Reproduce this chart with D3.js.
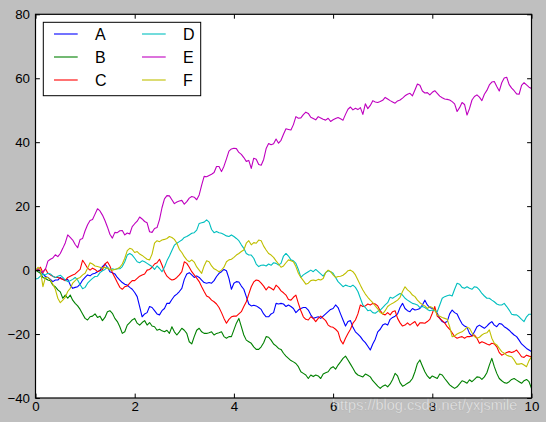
<!DOCTYPE html>
<html>
<head>
<meta charset="utf-8">
<script src="https://cdn.jsdelivr.net/npm/d3@7"></script>
<style>
  body { margin: 0; background: #bfbfbf; }
  svg { display: block; font-family: "Liberation Sans", Arial, sans-serif; }
</style>
</head>
<body>
<svg id="SVG_CONTAINER" width="546" height="422"></svg>
<script>
// x runs 0..10 in steps of 0.05
const xs = d3.range(201).map(i => i / 20);

const seriesA = [0,0.2,-0.5,-1.2,-2,-2.3,-2.9,-3.6,-3.1,-3.1, -2.3,-2.9,-3.1,-2.9,-4.6,-5.7,-5.4,-5.2,-4.4,-3.1,
  -2.3,-1.5,-1.8,-1.2,-1,-0.5,0,1.1,1.9,0.9, -0.5,-0.8,-1.2,-2.3,-3.1,-3.9,-4.4,-4.7,-5.4,-6,
  -7,-8.3,-11.4,-14.6,-13.7,-13.3,-11.4,-11.7,-12.7,-13.7, -14,-12.7,-12,-10.4,-10.4,-9.2,-8.1,-7.5,-6.7,-5.7,
  -2.9,-1.2,-0.8,-1.5,-2.3,-1.8,-2.3,-3.1,-3.9,-4.1, -3.9,-4.1,-3.3,-2,-1,-0.5,0.2,-0.2,-2.6,-6,
  -4.1,-3.6,-3.7,-5,-6,-8.3,-10.6,-11.2,-11,-11.2, -11.7,-12.3,-13.7,-14.6,-14.6,-13.7,-13.3,-10.4,-10.6,-10.4,
  -10.6,-11.4,-10.9,-11.4,-12,-13.3,-12.5,-12,-11.7,-11.7, -12.5,-14,-15.1,-14.8,-14.6,-15.1,-14.4,-13.7,-13,-12.3,
  -12,-10.9,-11.7,-13.7,-15.6,-17.5,-16.1,-15.8,-17.9,-19.3, -20,-20.8,-21.9,-22.7,-23.8,-25,-23.1,-21.6,-19.3,-18.5,
  -17.2,-16.8,-17.2,-15.4,-14.8,-14.4,-13.7,-11.7,-10.4,-12, -12.7,-13,-12,-12.5,-12.3,-12,-10.9,-9.4,-10.9,-11.7,
  -12,-12.3,-13.5,-15.1,-16.1,-16.5,-16.1,-13.7,-12.5,-13.3, -13.7,-15.4,-16.8,-17.5,-17.9,-19.8,-20.6,-19.3,-17.7,-17.2,
  -17.7,-18.2,-17.5,-16.7,-16.1,-17.2,-17.7,-16.7,-16.9,-17.7, -18.2,-18.8,-19.6,-20.3,-20.8,-21.9,-23.1,-23.8,-24.5,-25,
  -25.5];
const seriesB = [0,-0.5,-1,-2.3,-2.6,-3.1,-3.3,-4.7,-5.2,-6.2, -6.8,-8.8,-7.8,-8.8,-7.8,-9.4,-10.4,-11.2,-12.3,-13.7,
  -15.1,-15.6,-14.6,-14.4,-13.7,-14.8,-14.4,-15.8,-14.8,-13, -12.7,-13.5,-15.1,-16.1,-17.7,-19.8,-19.3,-17.2,-16.4,-15.6,
  -15.1,-16.6,-17.2,-16.4,-15.8,-17.2,-16.4,-17.5,-17.7,-18.8, -18.5,-19,-19.3,-18.8,-19.8,-17.7,-19.3,-20.3,-19.3,-18.2,
  -18.8,-19.8,-22.4,-23.1,-20.8,-18.8,-18.2,-19.3,-19.8,-19.8, -19.6,-19.3,-20.3,-19.8,-19.6,-19.3,-20.8,-21.3,-20.8,-20.8,
  -18.7,-16.6,-15.1,-17.7,-20.3,-21.9,-22.4,-22.9,-24,-24.8, -24.8,-24,-22.7,-20.8,-21,-21.9,-23.1,-23.7,-24.5,-24.8,
  -26,-26.9,-27.6,-28.3,-28.7,-29.2,-30.2,-31.8,-32.3,-32.8, -33.9,-32.8,-33.3,-32.8,-33.1,-33.9,-32.5,-32.1,-31.8,-30.7,
  -30.2,-31,-29.7,-28.7,-27.6,-26.9,-28.1,-29.4,-30.7,-32.1, -32.8,-33.1,-33.4,-32.5,-32.9,-33.4,-34.6,-35.4,-36.3,-37,
  -36.3,-35.9,-36.5,-35.6,-34.2,-32.3,-33.1,-35.2,-36.3,-35.9, -35.4,-34.9,-33.9,-31.8,-29.2,-28.1,-30,-31.8,-33.1,-33.9,
  -33.1,-33.5,-33.9,-32.5,-32.8,-33.9,-34.9,-35.9,-36.5,-37, -36.5,-35.6,-34.6,-34.9,-35.4,-34.3,-34.9,-34.2,-33.4,-33.5,
  -34.2,-33.4,-32.1,-29.7,-27.6,-30.2,-32.3,-33.9,-34.6,-35.2, -35.4,-34.9,-34.2,-33.9,-34.4,-34.9,-35.4,-34.6,-34.2,-34.9,
  -37];
const seriesC = [0,0,0.9,-0.8,0.4,-1,-1.5,-1.9,-2.3,-2.3, -2.6,-2.9,-3.3,-2.3,-1.9,-1.5,-1.2,-0.5,0.2,3.1,
  1.9,0.6,0,0.6,0.2,-0.5,-0.2,0.2,1.9,2.6, 1.3,-0.8,-2.3,-3.9,-5.4,-6,-5.2,-5,-4.1,-3.3,
  -3.3,-2.6,-1.9,-1.5,-1.2,0,0.2,0.9,1.9,2.3, 3.4,1.6,-0.5,-1.9,-2.6,-3.1,-2.9,-2.3,-1.5,-0.5,
  2.6,2.1,0.9,-0.5,-1.5,-2.5,-3.6,-5.2,-6.7,-8.1, -8.5,-9.4,-9.9,-10.6,-11.7,-13.3,-15.1,-16.6,-15.4,-14.6,
  -14.4,-14.4,-13.7,-13,-11.4,-9.9,-7.5,-5.2,-3.7,-3.1, -3.3,-4.1,-5,-6.2,-5.2,-5.7,-6.2,-4.7,-5.4,-6.5,
  -7.1,-7.8,-9.2,-9.4,-8.5,-7.8,-10.4,-12.7,-14.6,-15.4, -15.6,-14.6,-15.1,-16.1,-15.1,-14.4,-15.1,-15.8,-17.2,-17.7,
  -17.9,-18.5,-19.3,-21.9,-23.1,-21.3,-19.8,-18.5,-16.6,-15.6, -13.7,-10.9,-11.4,-11.2,-10.6,-10.9,-10.4,-10.6,-11.2,-12.7,
  -13.7,-14,-13.3,-14,-13,-12.7,-15.1,-16.5,-17.5,-17.2, -16.5,-17.2,-16.6,-16.1,-17.5,-16.5,-16.5,-16.6,-16.1,-15.4,
  -13.5,-11.4,-14.4,-15.1,-15.8,-16.5,-17.7,-18.5,-19.6,-20.8, -21.3,-21,-20.8,-21.3,-20.8,-20.8,-20.6,-20.3,-21.3,-22.9,
  -22.4,-22.7,-23.1,-23.4,-22.9,-23.1,-24,-25.8,-26.6,-26.2, -25.8,-25.5,-25.8,-25.5,-25,-26,-27.1,-27.3,-26.6,-26.9,
  -27.1];
const seriesD = [-2.8,-2.6,-1.9,-1.2,-1.5,-1,-1.2,-1.9,-2.3,-1.9, -1.6,-2.3,-3.1,-3.6,-3.3,-2.9,-2.3,-3.1,-4.6,-5.8,
  -5.4,-4.1,-3.3,-2.6,-2,-1.9,-0.8,-0.2,0.2,0.9, 0,0.4,0.2,0.4,0.4,1.1,2.6,4.7,5.2,4.7,
  3.7,2.6,2.3,2.9,2.6,2.1,1.6,1.1,0.2,1.3, 0.5,-0.5,0.9,2.9,4.4,6.1,7.8,8.4,8.9,9.4,
  10.2,10.5,11,11.5,11.7,12.5,14.6,14.8,15,15.7, 15,12.7,11.7,12.1,11.7,11.5,11.1,10.7,10.5,11,
  10.5,9.9,9.2,7.9,6.8,5.2,4.7,4.7,3.7,1.9, 1.1,1.5,1.6,1.3,1.9,1.5,2.3,2.1,1.6,2.1,
  4.4,5.2,4.4,3.2,2.9,2.1,0.2,-2.3,-1.5,-1, -0.5,0,-0.5,0.2,-0.5,-1.2,-1.9,-0.8,-0.2,-0.5,
  -1,-2.3,-3.6,-4.4,-5.2,-4.7,-5,-5.2,-4.7,-5.4, -6.7,-8.8,-10.9,-11.7,-12.7,-12.5,-13.3,-13.5,-12.9,-12.5,
  -11.7,-10.9,-10.2,-8.5,-8.8,-8.3,-7.8,-7.3,-7.8,-8.8, -9.4,-9.9,-10.4,-10.6,-10.9,-11.7,-11.4,-11.7,-12.3,-12.7,
  -12.5,-12.7,-13,-10.9,-8.8,-8.3,-8,-7.8,-8.1,-6, -4.1,-4.4,-5.4,-5.7,-5.2,-5.7,-6,-5.2,-5.4,-6.2,
  -7.3,-8.1,-8.8,-8.8,-9.4,-9.9,-10.6,-10.9,-10.9,-10.4, -11.4,-12.5,-13.8,-14,-14,-14.6,-15.4,-16.1,-14.6,-13.8,
  -13.8];
const seriesE = [0,0.5,-0.3,-0.5,0.2,2.8,3.4,3.8,4.8,4.2, 5.2,6.8,8.5,11,10.2,9.4,8,7,9.6,9.9,
  12.3,14.2,15.5,15.8,17.5,19.2,18.5,17.2,15.5,13.5, 11.2,10,11.8,11.7,12.3,12.4,11,11.6,11.3,13.6,
  14.5,15.3,16.6,16,15.2,14.8,12,11.8,13,13.3, 15.8,19.5,22.3,23.3,23.2,22,20.8,21.3,21.6,21.8,
  20.6,21.4,22.5,23,22.8,22,23.5,26.6,29.3,29.2, 29.6,30,30.5,32.4,32.4,30.8,32.5,34.8,37.2,37.9,
  38.1,38,36.8,36.2,35.2,34,34.3,31.8,35,34.7, 33,32.8,34.6,38,39.6,39.2,39.5,41,39.7,40.6,
  42.5,44.2,44,43.8,45.5,48,47.5,47.6,48.6,49.4, 49,47.8,47.4,47,48,47.6,47.2,46.9,47.5,46.5,
  47,47.4,47.7,47.3,46.9,48.7,50.3,51,50.1,50.6, 50.2,50.8,48.7,52,50.5,51.5,53,52.6,52.4,52.7,
  53.1,54,53.5,53,52.6,52.2,52.9,53.2,53.8,54.5, 55,55.3,54.5,56.3,58.2,57.8,56,55.4,55.5,54.8,
  55.6,56.1,55.3,54.4,53.9,53.5,53.4,53.2,52.7,52, 49.6,50.8,52.4,51.8,48.5,50.5,53.2,54.3,54.8,54.1,
  53,55,56.2,57.9,58.8,59,57.4,56,58.6,60.1, 60.3,58,56.9,56.1,55.1,55,57.8,58.6,57.9,57.2,
  56.8];
const seriesF = [-0.2,0.9,0,-5.2,-2.3,-2.3,-3.1,-4.4,-6,-8.8, -10.2,-9.4,-8.5,-6.7,-5.7,-4.1,-3.3,-2.6,-2.3,-1.5,
  -1,0.6,2.3,1.9,1.3,1.1,0.9,0.6,0.9,0.6, 0.2,0,0.2,0.4,0.9,1.9,3.7,6.1,6.8,6.5,
  5.5,5.8,5,4.6,4,3.4,3.2,5,8.4,9.2, 8.9,9.4,9.6,9.9,10.5,10.2,9.6,8.4,6.5,5.5,
  4.2,3.2,2.6,3.2,2.5,1,0,-1,1.3,2.9, 2.6,1.3,0.4,0,-0.5,0,0.9,2.6,3.2,3.4,
  4,4.7,5.2,5.8,6.3,8.4,9.2,7.9,8.6,8.4, 9.4,9.2,7.5,6.3,5.2,4.7,4,2.9,1.9,0.9,
  1.3,2.3,3.2,2.9,2.6,1.1,-1,-2.3,-3.3,-4.4, -4.1,-3.3,-3.1,-3.3,-2.9,-3.1,-2.6,-0.8,0,-0.5,
  -1.5,-2.3,-2,-1.9,-1.6,-1,-0.2,0,-0.5,-1.5, -3.1,-4.7,-6.2,-7.5,-8.5,-9.4,-10.2,-11.2,-12.1,-13.3,
  -13.7,-12.7,-11.4,-10.8,-10.4,-9.9,-9.4,-8.5,-6.7,-5.2, -6.2,-6.8,-7.8,-8.3,-9.4,-10.2,-10.8,-11.2,-12,-11.4,
  -11.7,-12.5,-14,-14.4,-14.8,-15.1,-15.4,-17.7,-20.8,-20.6, -20,-19.6,-19.3,-18.7,-17.9,-18.2,-19.6,-20.8,-21.3,-21,
  -20.3,-19.8,-19.6,-18.7,-21.3,-22.9,-23.4,-24.5,-25.5,-26, -26.6,-26.9,-27.1,-28.1,-29.4,-29.4,-29.2,-29.7,-30.2,-28.3,
  -27.1];

const names  = ["A", "B", "C", "D", "E", "F"];
const colors = ["#0000ff", "#008000", "#ff0000", "#00bfbf", "#bf00bf", "#bfbf00"];
const xTicks = [0, 2, 4, 6, 8, 10];
const yTicks = [-40, -20, 0, 20, 40, 60, 80];

const MARGIN = { LEFT: 35.5, RIGHT: 14.5, TOP: 14.3, BOTTOM: 24 };
const width = 546, height = 422;

let svg = d3.select("#SVG_CONTAINER");
let allSeries = [seriesA, seriesB, seriesC, seriesD, seriesE, seriesF];

let xScale = d3.scaleLinear().domain([0, 10]).range([MARGIN.LEFT, width - MARGIN.RIGHT]);
let yScale = d3.scaleLinear().domain([-40, 80]).range([height - MARGIN.BOTTOM, MARGIN.TOP]);

// plot background
svg.append("rect")
    .attr("x", MARGIN.LEFT).attr("y", MARGIN.TOP)
    .attr("width", xScale(10) - xScale(0))
    .attr("height", yScale(-40) - yScale(80))
    .attr("fill", "white");

svg.append("clipPath").attr("id", "clip")
  .append("rect")
    .attr("x", MARGIN.LEFT).attr("y", MARGIN.TOP)
    .attr("width", xScale(10) - xScale(0))
    .attr("height", yScale(-40) - yScale(80));

// lines
let line = d3.line()
    .x((d, i) => xScale(xs[i]))
    .y(d => yScale(d));

svg.append("g").attr("clip-path", "url(#clip)")
  .selectAll("path")
  .data(allSeries)
  .enter()
  .append("path")
    .attr("d", d => line(d))
    .attr("fill", "none")
    .attr("stroke", (d, i) => colors[i])
    .attr("stroke-width", 1.1)
    .attr("stroke-linejoin", "round");

// axes, ticks pointing inward
let fmt = d => d < 0 ? "\u2212" + Math.abs(d) : String(d);

let xAxis = svg.append("g")
    .attr("transform", "translate(0," + yScale(-40) + ")")
    .call(d3.axisBottom(xScale).tickValues(xTicks).tickFormat(fmt)
        .tickSizeInner(-4.4).tickSizeOuter(0).tickPadding(4));
let yAxis = svg.append("g")
    .attr("transform", "translate(" + xScale(0) + ",0)")
    .call(d3.axisLeft(yScale).tickValues(yTicks).tickFormat(fmt)
        .tickSizeInner(-4.4).tickSizeOuter(0).tickPadding(5.5));
let xTop = svg.append("g")
    .attr("transform", "translate(0," + yScale(80) + ")")
    .call(d3.axisTop(xScale).tickValues(xTicks).tickFormat("")
        .tickSizeInner(-4.4).tickSizeOuter(0));
let yRight = svg.append("g")
    .attr("transform", "translate(" + xScale(10) + ",0)")
    .call(d3.axisRight(yScale).tickValues(yTicks).tickFormat("")
        .tickSizeInner(-4.4).tickSizeOuter(0));

[xAxis, yAxis, xTop, yRight].forEach(function (g) {
    g.select(".domain").remove();
    g.selectAll("line").attr("stroke", "black").attr("stroke-width", 1);
    g.selectAll("text")
        .attr("fill", "black")
        .style("font-family", "'Liberation Sans', Arial, sans-serif")
        .style("font-size", "13.3px");
});

// frame
svg.append("rect")
    .attr("x", xScale(0)).attr("y", yScale(80))
    .attr("width", xScale(10) - xScale(0))
    .attr("height", yScale(-40) - yScale(80))
    .attr("fill", "none")
    .attr("stroke", "black")
    .attr("stroke-width", 1.2);

// legend
let legend = svg.append("g").attr("class", "legend");
legend.append("rect")
    .attr("x", 43.3).attr("y", 22.3)
    .attr("width", 157.4).attr("height", 73.4)
    .attr("fill", "white")
    .attr("stroke", "black")
    .attr("stroke-width", 1);

let items = legend.selectAll("g.item")
    .data(names)
    .enter()
    .append("g")
    .attr("class", "item")
    .attr("transform", (d, i) => "translate(" + (i < 3 ? 54 : 142) + "," + (34 + (i % 3) * 23) + ")");

items.append("line")
    .attr("x1", 0).attr("x2", 23.7)
    .attr("y1", 0).attr("y2", 0)
    .attr("stroke", (d, i) => colors[i])
    .attr("stroke-width", 1.1);

items.append("text")
    .attr("x", 41)
    .attr("y", 0)
    .attr("dy", "0.36em")
    .text(d => d)
    .style("font-size", "16px")
    .attr("fill", "black");

// watermark
svg.append("text")
    .attr("x", 332)
    .attr("y", 409.5)
    .text("https://blog.csdn.net/yxjsmile")
    .style("font-size", "14.5px")
    .attr("fill", "white")
    .attr("fill-opacity", 0.65)
    .attr("stroke", "#9a9a9a")
    .attr("stroke-opacity", 0.5)
    .attr("stroke-width", 0.4);
</script>
</body>
</html>
